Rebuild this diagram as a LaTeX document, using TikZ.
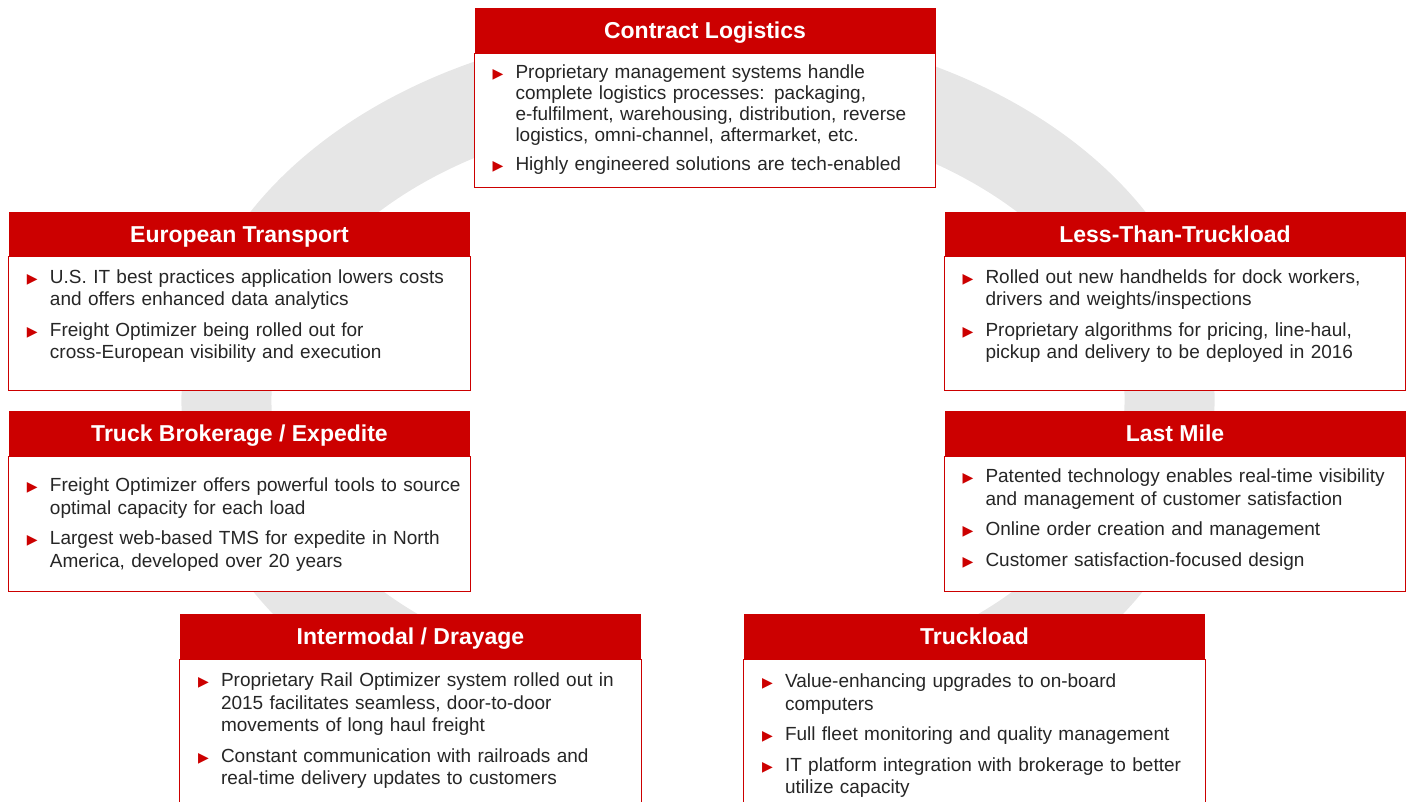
\documentclass[tikz,border=0pt]{standalone}
\usepackage{fontspec}
\setmainfont{Liberation Sans}
\newfontfamily\symfont{DejaVu Sans}
\usetikzlibrary{positioning}

\definecolor{xpored}{RGB}{204,0,0}
\definecolor{ringgray}{RGB}{230,230,230}
\definecolor{bodytext}{RGB}{38,38,38}

% red pointer in front of every item, lines after the first hang under the text
\newcommand{\bul}{\par\hangindent=23pt\hangafter=1\noindent
  \makebox[23pt][l]{\raisebox{0.3pt}{\symfont\fontsize{14}{14}\selectfont\color{xpored}▶}}}

\tikzset{
  head/.style={fill=xpored, text=white, font=\bfseries\fontsize{23}{26}\selectfont,
    minimum width=461pt, minimum height=45pt, inner sep=0pt, text height=16.5pt, text depth=0pt},
  body/.style={text=bodytext, font=\fontsize{19}{22.5}\selectfont, text width=460pt,
    align=left, inner sep=0pt, execute at begin node={\setlength{\parskip}{8pt}}},
  frame/.style={draw=xpored, fill=white, line width=1.3pt},
}

\begin{document}
\begin{tikzpicture}[x=1pt,y=-1pt]
	\useasboundingbox (0,0) rectangle (1413,801);
	\clip (0,0) rectangle (1413,801);

	% grey ring behind the boxes, open at the bottom
	\draw[ringgray, line width=90pt] (698,400) ++(99:471.5 and 330)
		arc[start angle=99, end angle=441, x radius=471.5, y radius=330];

	% Contract Logistics
	\node[head] (contract) at (705,30.5) {Contract Logistics};
	\draw[frame] (contract.south west) rectangle ([yshift=-134pt]contract.south east);
	\node[body, font=\fontsize{19}{21}\selectfont, below right=-4pt and 18pt of contract.south west] (contractbody) {%
		\bul Proprietary management systems handle\newline complete logistics processes: packaging,\newline e-fulfilment, warehousing, distribution, reverse\newline logistics, omni-channel, aftermarket, etc.
		\bul Highly engineered solutions are tech-enabled\par};

	% European Transport
	\node[head] (europe) at (239.5,234) {European Transport};
	\draw[frame] (europe.south west) rectangle ([yshift=-134pt]europe.south east);
	\node[body, below right=-4pt and 18pt of europe.south west] (europebody) {%
		\bul U.S. IT best practices application lowers costs\newline and offers enhanced data analytics
		\bul Freight Optimizer being rolled out for\newline cross-European visibility and execution\par};

	% Less-Than-Truckload
	\node[head] (ltl) at (1175,234) {Less-Than-Truckload};
	\draw[frame] (ltl.south west) rectangle ([yshift=-134pt]ltl.south east);
	\node[body, below right=-4pt and 18pt of ltl.south west] (ltlbody) {%
		\bul Rolled out new handhelds for dock workers,\newline drivers and weights/inspections
		\bul Proprietary algorithms for pricing, line-haul,\newline pickup and delivery to be deployed in 2016\par};

	% Truck Brokerage / Expedite
	\node[head] (brokerage) at (239.5,433.5) {Truck Brokerage / Expedite};
	\draw[frame] (brokerage.south west) rectangle ([yshift=-135pt]brokerage.south east);
	\node[body, below right=5pt and 18pt of brokerage.south west] (brokeragebody) {%
		\bul Freight Optimizer offers powerful tools to source\newline optimal capacity for each load
		\bul Largest web-based TMS for expedite in North\newline America, developed over 20 years\par};

	% Last Mile
	\node[head] (lastmile) at (1175,433.5) {Last Mile};
	\draw[frame] (lastmile.south west) rectangle ([yshift=-135pt]lastmile.south east);
	\node[body, below right=-4pt and 18pt of lastmile.south west] (lastmilebody) {%
		\bul Patented technology enables real-time visibility\newline and management of customer satisfaction
		\bul Online order creation and management
		\bul Customer satisfaction-focused design\par};

	% Intermodal / Drayage
	\node[head] (intermodal) at (410.5,636.5) {Intermodal / Drayage};
	\draw[frame] (intermodal.south west) rectangle ([yshift=-200pt]intermodal.south east);
	\node[body, below right=-3pt and 18pt of intermodal.south west] (intermodalbody) {%
		\bul Proprietary Rail Optimizer system rolled out in\newline 2015 facilitates seamless, door-to-door\newline movements of long haul freight
		\bul Constant communication with railroads and\newline real-time delivery updates to customers\par};

	% Truckload
	\node[head] (truckload) at (974.5,636.5) {Truckload};
	\draw[frame] (truckload.south west) rectangle ([yshift=-200pt]truckload.south east);
	\node[body, below right=-2pt and 18pt of truckload.south west] (truckloadbody) {%
		\bul Value-enhancing upgrades to on-board\newline computers
		\bul Full fleet monitoring and quality management
		\bul IT platform integration with brokerage to better\newline utilize capacity\par};
\end{tikzpicture}
\end{document}
